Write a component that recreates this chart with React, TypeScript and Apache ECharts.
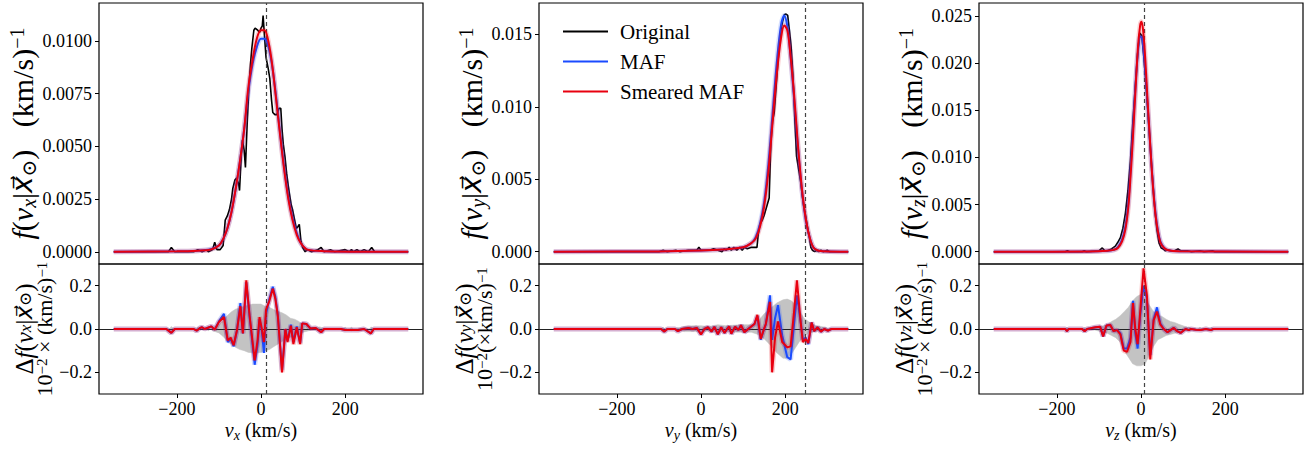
import React, { useEffect, useRef } from 'react';
import * as echarts from 'echarts';

// ---------------- Panel 1: v_x ----------------
const vxOrigX = [-350,-220,-213,-205,-160,-150,-140,-130,-125,-115,-110,-105,-97,-90,-85,-80,-75,-70,-67,-62,-58,-53,-51,-47,-44,-40,-37,-33,-29,-25,-22,-17,-14,-8,-3,0,3,5,8,12,17,21,25,28,33,38,43,47,50,53,57,61,65,68,72,75,80,84,88,91,95,99,105,110,120,135,143,150,165,175,200,210,215,220,228,235,245,255,263,270,350];
const vxOrig = [0,0,0.0002,0,0,0.0001,0,0.0001,0,0.0001,0.00045,0.0001,0.0001,0.0003,0.0015,0.0017,0.002,0.0025,0.003,0.0034,0.0035,0.0032,0.0029,0.0045,0.0053,0.0048,0.004,0.006,0.0077,0.0089,0.0096,0.0105,0.0106,0.0105,0.0104,0.0106,0.0107,0.0112,0.0103,0.0092,0.0087,0.0082,0.0072,0.0066,0.0065,0.0065,0.0068,0.0068,0.0058,0.0051,0.0045,0.0037,0.0031,0.0027,0.0022,0.002,0.0015,0.0011,0.0012,0.0013,0.0005,0.0002,0,0.0001,0,0.0001,0.0002,0,0.0001,0,0.0001,0,0.0001,0,0.0001,0,0.0001,0,0.0002,0,0];
const vxFitX = [-350,-200,-150,-120,-100,-90,-80,-70,-60,-50,-40,-30,-20,-10,0,8,15,25,35,45,55,65,75,85,95,110,150,350];
const vxSmeared = [0,0.00002,0.00005,0.0001,0.0003,0.0006,0.0011,0.0019,0.003,0.0043,0.0058,0.0078,0.0091,0.0101,0.0105,0.0105,0.0102,0.0091,0.0074,0.0056,0.0039,0.0025,0.0015,0.0008,0.0004,0.0001,0.00003,0];
const vxMaf = [0,0.00002,0.00005,0.00012,0.0003,0.0006,0.0011,0.0019,0.003,0.0043,0.0058,0.0076,0.0089,0.0097,0.0101,0.0101,0.0099,0.009,0.0075,0.0057,0.004,0.0026,0.0016,0.0009,0.0004,0.0001,0.00003,0];
const vxResX = [-350,-225,-213,-205,-160,-153,-145,-140,-134,-126,-118,-110,-100,-88,-79,-72,-65,-57,-49,-43,-35,-27,-15,-8,-3.5,2,7,12,20,28,34,40,50,58,63,71,77,85,93,98,108,118,130,143,150,165,190,200,215,230,245,261,268,350];
const vxResSmeared = [0,0,-0.018,0,0,-0.008,0.005,0.008,0,0.006,0.012,-0.003,0.032,0.055,-0.052,-0.04,-0.075,-0.005,0.105,-0.02,0.225,0.06,-0.145,-0.05,0.055,0,-0.06,0.09,0.13,0.186,0.14,0.06,-0.2,0,-0.06,0.015,-0.07,0.008,-0.07,0.026,0.023,0.002,0.005,-0.015,0,0,0,-0.005,-0.005,-0.005,0,-0.02,0,0];
const vxResMaf = [0,0,-0.018,0,0,-0.008,0.005,0.008,0,0.006,0.012,-0.003,0.035,0.07,-0.06,-0.045,-0.08,-0.005,0.12,-0.02,0.215,0.055,-0.165,-0.07,0.045,-0.01,-0.11,0.07,0.14,0.195,0.15,0.065,-0.19,0,-0.055,0.02,-0.06,0.012,-0.065,0.026,0.023,0.002,0.005,-0.015,0,0,0,-0.005,-0.005,-0.005,0,-0.02,0,0];
const vxBandX = [-350,-218,-213,-208,-155,-150,-145,-128,-125,-120,-112,-100,-90,-80,-70,-60,-50,-40,-30,-20,-10,0,10,20,30,40,50,60,70,80,90,100,110,120,130,140,148,195,200,205,210,215,220,257,262,267,350];
const vxBandHi = [0,0,0.012,0,0,0.008,0,0,0.008,0,0.01,0.02,0.04,0.062,0.08,0.092,0.097,0.105,0.11,0.115,0.115,0.115,0.105,0.1,0.09,0.082,0.075,0.065,0.05,0.045,0.035,0.02,0.015,0.008,0.005,0.01,0.003,0,0.008,0,0,0.008,0,0,0.01,0,0];
const vxBandLo = [0,0,-0.012,0,0,-0.008,0,0,-0.008,0,-0.01,-0.018,-0.035,-0.055,-0.07,-0.085,-0.095,-0.1,-0.108,-0.11,-0.11,-0.108,-0.1,-0.095,-0.082,-0.07,-0.058,-0.046,-0.038,-0.03,-0.023,-0.015,-0.01,-0.005,-0.005,-0.008,-0.003,0,-0.008,0,0,-0.008,0,0,-0.01,0,0];
const vxTopTicks = [0, 0.0025, 0.005, 0.0075, 0.01];

// ---------------- Panel 2: v_y ----------------
const vyOrigX = [-350,-100,-90,-80,-60,-50,-30,-10,-5,0,20,30,40,50,55,60,67,72,78,85,92,98,103,110,120,128,133,136,140,146,150,156,162,166,170,174,178,182,186,190,194,198,202,206,210,214,218,221,224,227,232,237,241,245,249,253,257,261,265,270,275,280,285,290,300,305,350];
const vyOrig = [0,0,0.0001,0,0.0001,0,0.0001,0.0001,0.0003,0.0001,0.0001,0.0002,0.0001,0,0.0002,0.0001,0.0003,0.0001,0.0003,0.0001,0.0003,0.0001,0.0003,0.0002,0.0003,0.0003,0.0003,0.0012,0.0019,0.0022,0.0025,0.0031,0.0037,0.0075,0.009,0.0096,0.0112,0.0128,0.0142,0.0153,0.0159,0.01635,0.0164,0.0163,0.0153,0.0142,0.0124,0.0105,0.0085,0.0066,0.0057,0.0048,0.0038,0.003,0.0024,0.0017,0.0011,0.0003,0.0001,0,0.0001,0,0.0001,0,0.0001,0,0];
const vyFitX = [-350,-100,0,50,100,120,130,140,150,160,170,180,190,198,205,210,220,230,240,250,260,270,290,350];
const vySmeared = [0,0.00002,0.00008,0.00015,0.0003,0.0006,0.0009,0.0017,0.0031,0.0055,0.0089,0.0122,0.0147,0.0156,0.0153,0.0143,0.0113,0.0075,0.0043,0.0021,0.0008,0.0002,0.00003,0];
const vyMaf = [0,0.00002,0.00008,0.00015,0.0003,0.0006,0.001,0.0019,0.0034,0.006,0.0095,0.013,0.0156,0.0163,0.0156,0.0144,0.011,0.0073,0.0042,0.002,0.0008,0.0002,0.00003,0];
const vyResX = [-350,-95,-87,-80,-62,-55,-45,-30,-20,-10,0,8,17,25,32,40,48,56,62,67,72,81,89,95,103,115,127,134,142,148,154,164,169,176,183,193,205,213,221,228,237,242,249,255,263,269,277,285,293,301,310,350];
const vyResSmeared = [0,0,-0.012,0,0,-0.01,0,0.005,0,0.005,-0.025,0,0.008,-0.012,0.01,-0.025,0.008,-0.018,0,0.012,-0.022,0.01,-0.005,0.018,-0.015,0.005,0.023,0.065,-0.046,-0.01,0.023,0.125,-0.2,-0.04,0.035,-0.06,-0.085,-0.08,0.077,0.225,0.03,-0.06,-0.046,-0.065,0.03,-0.01,0.008,-0.012,0,-0.008,0,0];
const vyResMaf = [0,0,-0.012,0,0,-0.01,0,0.005,0,0.005,-0.025,0,0.008,-0.012,0.01,-0.025,0.008,-0.018,0,0.012,-0.022,0.01,-0.005,0.018,-0.015,0.005,0.023,0.06,-0.05,-0.01,0.02,0.155,-0.05,0.05,0.11,-0.03,-0.13,-0.14,0.02,0.155,0.03,-0.05,-0.04,-0.07,0.03,-0.01,0.008,-0.012,0,-0.008,0,0];
const vyBandX = [-350,-95,-90,-85,-60,-55,-50,-40,-20,0,20,40,60,80,100,120,135,150,165,180,195,205,215,225,235,245,255,265,275,285,295,305,350];
const vyBandHi = [0,0,0.008,0,0,0.008,0.005,0.012,0.015,0.015,0.012,0.02,0.015,0.018,0.02,0.02,0.035,0.07,0.095,0.12,0.135,0.138,0.13,0.11,0.08,0.05,0.035,0.022,0.015,0.012,0.008,0,0];
const vyBandLo = [0,0,-0.008,0,0,-0.008,-0.005,-0.012,-0.012,-0.012,-0.01,-0.015,-0.012,-0.015,-0.015,-0.015,-0.025,-0.045,-0.075,-0.11,-0.135,-0.135,-0.115,-0.085,-0.055,-0.035,-0.02,-0.015,-0.01,-0.008,-0.005,0,0];
const vyTopTicks = [0, 0.005, 0.01, 0.015];

// ---------------- Panel 3: v_z ----------------
const vzOrigX = [-350,-180,-175,-170,-140,-135,-130,-100,-92,-86,-80,-70,-61,-55,-49,-43,-37,-31,-25,-19,-13,-8,-3,2,6,10,15,21,25,30,34,38,43,48,53,58,65,70,80,88,95,110,120,140,150,170,175,350];
const vzOrig = [0,0,0.0001,0,0,0.0001,0,0.0001,0.0004,0.0001,0.0001,0.0003,0.0006,0.001,0.0015,0.0025,0.0041,0.0065,0.0097,0.014,0.0179,0.021,0.0232,0.0229,0.021,0.0189,0.0158,0.0118,0.0092,0.0062,0.004,0.0023,0.0009,0.0004,0.0003,0.0001,0.0002,0.0001,0.0001,0.0003,0.0001,0.0001,0,0.0001,0,0.0001,0,0];
const vzFitX = [-350,-120,-80,-65,-55,-45,-37,-30,-25,-20,-13,-7,-2,1,5,10,15,20,25,30,35,40,46,55,65,90,350];
const vzSmeared = [0,0.00002,0.0001,0.0002,0.0004,0.0011,0.0024,0.0048,0.0079,0.0115,0.0172,0.0218,0.024,0.0244,0.0235,0.0205,0.0165,0.0128,0.0091,0.006,0.0037,0.0022,0.001,0.0004,0.00015,0.00005,0];
const vzMaf = [0,0.00002,0.0001,0.0002,0.0005,0.0013,0.0027,0.0053,0.0086,0.0123,0.0177,0.0213,0.0228,0.0228,0.0218,0.0193,0.016,0.0126,0.0092,0.0062,0.0039,0.0023,0.0011,0.0004,0.00015,0.00005,0];
const vzResX = [-350,-180,-176,-172,-140,-134,-128,-120,-108,-97,-90,-82,-73,-65,-57,-49,-41,-33,-25,-19,-13.5,-8,-2,6,14,22,30,38,46,54,63,70,78,86,94,106,114,118,130,142,154,166,172,350];
const vzResSmeared = [0,0,-0.01,0,0,-0.01,0,0.003,0.008,0.01,-0.034,0.016,0.018,-0.01,-0.005,-0.025,-0.1,-0.105,-0.06,0.12,0,-0.07,0.077,0.28,0.156,-0.14,0.04,0.08,0.02,0,-0.015,-0.005,0.005,-0.01,-0.018,0,-0.005,0,-0.003,-0.005,0,-0.005,0,0];
const vzResMaf = [0,0,-0.01,0,0,-0.01,0,0.003,0.008,0.01,-0.034,0.016,0.018,-0.01,-0.005,-0.02,-0.09,-0.09,-0.04,0.13,-0.02,-0.09,0.06,0.2,0.14,-0.12,0.045,0.1,0.025,0,-0.015,-0.005,0.005,-0.01,-0.018,0,-0.005,0,-0.003,-0.005,0,-0.005,0,0];
const vzBandX = [-350,-180,-176,-172,-138,-134,-130,-110,-100,-90,-80,-70,-60,-50,-40,-30,-20,-10,0,10,20,30,40,50,60,70,80,90,100,110,114,120,135,140,145,163,168,173,350];
const vzBandHi = [0,0,0.008,0,0,0.008,0,0.005,0.01,0.015,0.02,0.035,0.045,0.06,0.08,0.1,0.13,0.15,0.16,0.14,0.11,0.08,0.065,0.058,0.045,0.035,0.03,0.022,0.015,0.008,0.01,0.003,0,0.008,0,0,0.008,0,0];
const vzBandLo = [0,0,-0.008,0,0,-0.008,0,-0.005,-0.01,-0.015,-0.02,-0.03,-0.04,-0.06,-0.1,-0.13,-0.16,-0.17,-0.17,-0.16,-0.12,-0.08,-0.05,-0.04,-0.03,-0.025,-0.02,-0.015,-0.01,-0.005,-0.008,-0.003,0,-0.008,0,0,-0.008,0,0];
const vzTopTicks = [0, 0.005, 0.01, 0.015, 0.02, 0.025];

// shared
const residualTicks = [-0.2, 0, 0.2];
const velocityTicks = [-200, 0, 200];
const sunVelocity = [12, 247, 8];
const seriesNames = ['Original', 'MAF', 'Smeared MAF'];

const FONT = 'Liberation Serif, DejaVu Serif, serif';
const ARROW_FONT = 'DejaVu Serif, DejaVu Sans, serif';
const BLACK = '#000000';
const BLUE = '#1a4bff';
const RED = '#e8000f';
const GRAY = '#c3c3c3';

const fmtNum = (v: number, d: number) => {
  const s = Math.abs(v).toFixed(d);
  return v < -1e-12 ? '\u2212' + s : s;
};

// rich-text styles; `pre` lets two sizes live in the same label
function rich(size: number, lh: number, pre = '') {
  const sub = Math.round(size * 0.68);
  const o: any = {};
  o[pre + 'n'] = { fontFamily: FONT, fontSize: size, lineHeight: lh, color: '#000' };
  o[pre + 'i'] = { fontFamily: FONT, fontSize: size, lineHeight: lh, fontStyle: 'italic', color: '#000' };
  o[pre + 'a'] = { fontFamily: ARROW_FONT, fontSize: Math.round(size * 0.92), lineHeight: lh, fontStyle: 'italic', color: '#000' };
  o[pre + 's'] = { fontFamily: FONT, fontSize: sub, lineHeight: sub, fontStyle: 'italic', verticalAlign: 'bottom', color: '#000' };
  o[pre + 'sn'] = { fontFamily: FONT, fontSize: sub, lineHeight: sub, verticalAlign: 'bottom', color: '#000' };
  o[pre + 'p'] = { fontFamily: FONT, fontSize: sub, lineHeight: sub, verticalAlign: 'top', color: '#000' };
  return o;
}

const panels = [
  { c: 'x', origX: vxOrigX, orig: vxOrig, fitX: vxFitX, maf: vxMaf, smeared: vxSmeared, resX: vxResX, resMaf: vxResMaf, resSmeared: vxResSmeared, bandX: vxBandX, bandLo: vxBandLo, bandHi: vxBandHi, ticks: vxTopTicks, dec: 4, min: -0.00058, max: 0.01179, line2: '{n|10}{p|\u22122}{n| \u00d7 (km/s)}{p|\u22121}' },
  { c: 'y', origX: vyOrigX, orig: vyOrig, fitX: vyFitX, maf: vyMaf, smeared: vySmeared, resX: vyResX, resMaf: vyResMaf, resSmeared: vyResSmeared, bandX: vyBandX, bandLo: vyBandLo, bandHi: vyBandHi, ticks: vyTopTicks, dec: 3, min: -0.00085, max: 0.01716, line2: '{n|10}{p|\u22122}{n|(\u00d7km/s)}{p|\u22121}' },
  { c: 'z', origX: vzOrigX, orig: vzOrig, fitX: vzFitX, maf: vzMaf, smeared: vzSmeared, resX: vzResX, resMaf: vzResMaf, resSmeared: vzResSmeared, bandX: vzBandX, bandLo: vzBandLo, bandHi: vzBandHi, ticks: vzTopTicks, dec: 3, min: -0.0013, max: 0.02638, line2: '{n|10}{p|\u22122}{n| \u00d7 (km/s)}{p|\u22121}' },
];

const LEFTS = [99, 539, 979];
const WIDTH = 324;

function lineSeries(name: string | undefined, xs: number[], ys: number[], idx: number, color: string, width: number, z: number, smooth: boolean, opacity = 1, extra: any = {}) {
  return {
    type: 'line',
    name,
    xAxisIndex: idx,
    yAxisIndex: idx,
    data: xs.map((x, i) => [x, ys[i]]),
    showSymbol: false,
    symbol: 'none',
    smooth: smooth ? 0.35 : false,
    color,
    itemStyle: { color },
    lineStyle: { color, width, opacity },
    z,
    silent: true,
    ...extra,
  };
}

function bandSeries(xs: number[], lo: number[], hi: number[], idx: number) {
  return {
    type: 'custom',
    name: 'band',
    xAxisIndex: idx,
    yAxisIndex: idx,
    silent: true,
    z: 1,
    data: xs.map((x, i) => [x, lo[i], hi[i]]),
    encode: { x: 0, y: [1, 2] },
    renderItem: (params: any, api: any) => {
      if (params.dataIndex !== 0) return { type: 'group', children: [] };
      const upper = xs.map((x, i) => api.coord([x, hi[i]]));
      const lower = xs.map((x, i) => api.coord([x, lo[i]])).reverse();
      return { type: 'polygon', shape: { points: upper.concat(lower) }, style: { fill: GRAY, stroke: GRAY, lineWidth: 0.5 } };
    },
  };
}

function buildOption() {
  const grid: any[] = [];
  const xAxis: any[] = [];
  const yAxis: any[] = [];
  const series: any[] = [];
  const tickLabel = { fontFamily: FONT, fontSize: 18, color: '#000' };

  panels.forEach((p, k) => {
    grid[k] = { left: LEFTS[k], width: WIDTH, top: 3, height: 261, show: true, borderColor: '#000', borderWidth: 1.2, backgroundColor: 'transparent' };
    grid[3 + k] = { left: LEFTS[k], width: WIDTH, top: 264, height: 130, show: true, borderColor: '#000', borderWidth: 1.2, backgroundColor: 'transparent' };

    xAxis[k] = { type: 'value', gridIndex: k, min: -385, max: 385, axisLine: { show: false, onZero: false }, axisTick: { show: false }, axisLabel: { show: false }, splitLine: { show: false } };
    xAxis[3 + k] = {
      type: 'value', gridIndex: 3 + k, min: -385, max: 385,
      axisLine: { show: false, onZero: false },
      axisTick: { show: true, length: 4, lineStyle: { color: '#000', width: 1 }, customValues: velocityTicks },
      axisLabel: { ...tickLabel, margin: 6, customValues: velocityTicks, formatter: (v: number) => fmtNum(v, 0) },
      splitLine: { show: false },
      name: `{i|v}{s|${p.c}}{n| (km/s)}`,
      nameLocation: 'middle',
      nameGap: 24,
      nameTextStyle: { rich: rich(20, 24) },
    };

    yAxis[k] = {
      type: 'value', gridIndex: k, min: p.min, max: p.max,
      axisLine: { show: false, onZero: false },
      axisTick: { show: true, length: 4, lineStyle: { color: '#000', width: 1 }, customValues: p.ticks },
      axisLabel: { ...tickLabel, margin: 7, customValues: p.ticks, formatter: (v: number) => fmtNum(v, p.dec) },
      splitLine: { show: false },
      name: `{i|f}{n|(}{i|v}{s|${p.c}}{n||}{a|x\u20d7}{sn|\u2299}{n|)   (km/s)}{p|\u22121}`,
      nameLocation: 'middle',
      nameGap: 41,
      nameTextStyle: { rich: rich(30, 32) },
    };
    yAxis[3 + k] = {
      type: 'value', gridIndex: 3 + k, min: -0.3, max: 0.3,
      axisLine: { show: false, onZero: false },
      axisTick: { show: true, length: 4, lineStyle: { color: '#000', width: 1 }, customValues: residualTicks },
      axisLabel: { ...tickLabel, margin: 7, customValues: residualTicks, formatter: (v: number) => fmtNum(v, 1) },
      splitLine: { show: false },
      name: `{Ln|\u0394}{Li|f}{Ln|(}{Li|v}{Ls|${p.c}}{Ln||}{La|x\u20d7}{Lsn|\u2299}{Ln|)}\n${p.line2}`,
      nameLocation: 'middle',
      nameGap: 42,
      nameTextStyle: { rich: { ...rich(22, 20), ...rich(25, 20, 'L') } },
    };

    const dashed = {
      markLine: {
        silent: true, symbol: ['none', 'none'], label: { show: false }, animation: false,
        lineStyle: { type: [4, 3], color: '#444', width: 1.2 },
        data: [{ xAxis: sunVelocity[k] }],
      },
    };

    // top panel
    series.push(lineSeries(seriesNames[0], p.origX, p.orig, k, BLACK, 1.6, 3, false, 1, dashed));
    series.push(lineSeries('maf-halo', p.fitX, p.maf, k, BLUE, 5, 4, true, 0.18));
    series.push(lineSeries(seriesNames[1], p.fitX, p.maf, k, BLUE, 2, 5, true));
    series.push(lineSeries('smeared-halo', p.fitX, p.smeared, k, RED, 5, 6, true, 0.18));
    series.push(lineSeries(seriesNames[2], p.fitX, p.smeared, k, RED, 2, 7, true));

    // residual panel
    const r = 3 + k;
    series.push(bandSeries(p.bandX, p.bandLo, p.bandHi, r));
    series.push(lineSeries('res-maf-halo', p.resX, p.resMaf, r, BLUE, 5, 3, false, 0.2, {
      markLine: {
        silent: true, symbol: ['none', 'none'], label: { show: false }, animation: false, z: 2,
        lineStyle: { type: 'solid', color: '#222', width: 1.2 },
        data: [{ yAxis: 0 }],
      },
    }));
    series.push(lineSeries('res-maf', p.resX, p.resMaf, r, BLUE, 2, 4, false));
    series.push(lineSeries('res-smeared-halo', p.resX, p.resSmeared, r, RED, 5, 5, false, 0.2));
    series.push(lineSeries('res-smeared', p.resX, p.resSmeared, r, RED, 2, 6, false, 1, dashed));
  });

  return {
    animation: false,
    backgroundColor: '#ffffff',
    textStyle: { fontFamily: FONT },
    legend: {
      data: seriesNames,
      orient: 'vertical',
      left: 558,
      top: 16,
      icon: 'rect',
      itemWidth: 45,
      itemHeight: 2,
      itemGap: 9,
      selectedMode: false,
      textStyle: { fontFamily: FONT, fontSize: 21, color: '#000', lineHeight: 20, padding: [0, 0, 0, 7] },
    },
    grid,
    xAxis,
    yAxis,
    series,
  };
}

export default function App() {
  const ref = useRef<HTMLDivElement>(null);
  useEffect(() => {
    if (!ref.current) return;
    const chart = echarts.init(ref.current, null, { renderer: 'svg' });
    chart.setOption(buildOption() as any);
    return () => chart.dispose();
  }, []);
  return (
    <div
      ref={ref}
      style={{ position: 'fixed', left: 0, top: 0, width: 1315, height: 450, background: '#fff' }}
    />
  );
}
